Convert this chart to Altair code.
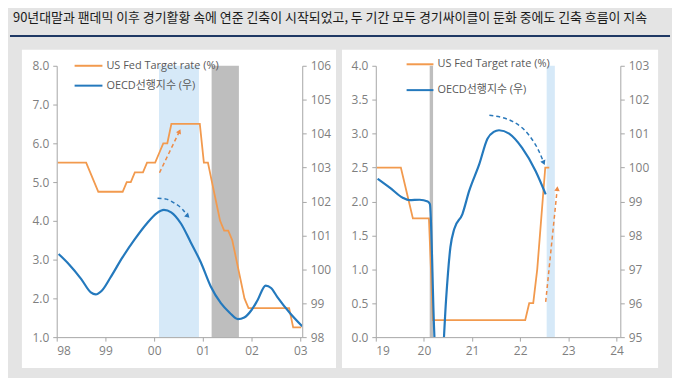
import altair as alt
import pandas as pd

TITLE = "90년대말과 팬데믹 이후 경기활황 속에 연준 긴축이 시작되었고, 두 기간 모두 경기싸이클이 둔화 중에도 긴축 흐름이 지속"
SERIES = ["US Fed Target rate (%)", "OECD선행지수 (우)"]
COLORS = ["#F29A4E", "#2479BD"]

# ---------------- left panel (1998-2003) ----------------
fed1_start_year = 1998
fed1_values = [
    5.5, 5.5, 5.5, 5.5, 5.5, 5.5, 5.5, 5.5, 5.25, 5.0, 4.75, 4.75,
    4.75, 4.75, 4.75, 4.75, 4.75, 5.0, 5.0, 5.25, 5.25, 5.25, 5.5, 5.5,
    5.5, 5.75, 6.0, 6.0, 6.5, 6.5, 6.5, 6.5, 6.5, 6.5, 6.5, 6.5,
    5.5, 5.5, 5.0, 4.5, 4.0, 3.75, 3.75, 3.5, 3.0, 2.5, 2.0, 1.75,
    1.75, 1.75, 1.75, 1.75, 1.75, 1.75, 1.75, 1.75, 1.75, 1.75, 1.25, 1.25,
    1.25,
]
cli1_x = [1998.04, 1998.25, 1998.50, 1998.70, 1998.80, 1998.92, 1999.10, 1999.35,
          1999.60, 1999.85, 2000.05, 2000.20, 2000.35, 2000.55, 2000.75, 2000.96,
          2001.16, 2001.37, 2001.55, 2001.72, 2001.85, 2002.00, 2002.12, 2002.29,
          2002.40, 2002.53, 2002.80, 2003.04]
cli1_v = [100.45, 100.15, 99.72, 99.32, 99.26, 99.36, 99.75, 100.35,
          100.88, 101.35, 101.65, 101.75, 101.68, 101.35, 100.80, 100.20,
          99.50, 99.00, 98.72, 98.53, 98.58, 98.80, 99.08, 99.52,
          99.45, 99.18, 98.69, 98.32]
band1_blue = [2000.10, 2000.92]
band1_grey = [2001.18, 2001.74]
arr1_fed_x = [2000.11, 2000.52]
arr1_fed_y = [5.24, 6.31]
arr1_cli_x = [2000.07, 2000.25, 2000.41, 2000.58, 2000.69]
arr1_cli_y = [4.58, 4.56, 4.46, 4.30, 4.12]

# ---------------- right panel (2019-2024) ----------------
fed2_start_year = 2019
fed2_values = [
    2.5, 2.5, 2.5, 2.5, 2.5, 2.5, 2.5, 2.25, 2.0, 1.75, 1.75, 1.75,
    1.75, 1.75, 0.25, 0.25, 0.25, 0.25, 0.25, 0.25, 0.25, 0.25, 0.25, 0.25,
    0.25, 0.25, 0.25, 0.25, 0.25, 0.25, 0.25, 0.25, 0.25, 0.25, 0.25, 0.25,
    0.25, 0.25, 0.5, 0.5, 1.0, 1.75, 2.5, 2.5,
]
cli2_x = [2019.04, 2019.29, 2019.56, 2019.70, 2019.91, 2020.08, 2020.125, 2020.21,
          2020.29, 2020.375, 2020.46, 2020.55, 2020.63, 2020.80, 2020.94, 2021.15,
          2021.32, 2021.45, 2021.56, 2021.77, 2022.04, 2022.32, 2022.53]
cli2_v = [99.67, 99.41, 99.11, 99.04, 99.05, 99.00, 98.92, 95.30,
          93.00, 94.00, 96.10, 97.65, 98.19, 98.63, 99.31, 100.10,
          100.85, 101.05, 101.10, 101.00, 100.58, 99.90, 99.21]
band2_blue = [2022.55, 2022.72]
band2_grey = [2020.12, 2020.19]
arr2_fed_x = [2022.53, 2022.77]
arr2_fed_y = [0.52, 2.19]
arr2_cli_x = [2021.36, 2021.84, 2022.18, 2022.39, 2022.49]
arr2_cli_y = [3.27, 3.18, 2.98, 2.74, 2.57]

ORANGE, BLUE = COLORS
LIGHT_BLUE = "#D6E9F8"
GREY_BAND = "#BEBEBE"
FONT = "Open Sans, Noto Sans CJK KR"
AX = dict(title=None, grid=False, zindex=1, domainColor="#A6A6A6", tickColor="#A6A6A6",
          tickSize=4, labelColor="#7F7F7F", labelFontSize=12, labelFont="Open Sans",
          labelPadding=4)


def monthly(start_year, values):
    xs = [start_year + (i + 0.25) / 12 for i in range(len(values))]
    return pd.DataFrame({"x": xs, "y": values, "series": SERIES[0]})


def panel(fed_df, cli_df, band_blue, band_grey, arr_fed, arr_cli, arr_angles,
          xdom, xticks, ldom, lvals, rdom, rvals, width, height,
          legend_x, legend_y, row_pad, sym, rect_x, rect_x2, header=False):
    xenc = alt.X("x:Q", scale=alt.Scale(domain=xdom, nice=False, zero=False),
                 axis=alt.Axis(values=xticks,
                               labelExpr="format(datum.value % 100, '02d')", **AX))
    yl = alt.Y("y:Q", scale=alt.Scale(domain=ldom, nice=False, zero=False),
               axis=alt.Axis(values=lvals, format=".1f", orient="left", **AX))
    yr = alt.Y("y:Q", scale=alt.Scale(domain=rdom, nice=False, zero=False),
               axis=alt.Axis(values=rvals, format="d", orient="right", **AX))
    leg = alt.Legend(orient="none", legendX=legend_x, legendY=legend_y, title=None,
                     symbolType="stroke", symbolSize=sym, symbolStrokeWidth=2,
                     labelFontSize=11, labelColor="#595959", labelFont=FONT,
                     rowPadding=row_pad, padding=0, labelOffset=3, zindex=2)
    cenc = alt.Color("series:N", scale=alt.Scale(domain=SERIES, range=COLORS), legend=leg)

    one = alt.Data(values=[{"a": 1}])
    bg = alt.Chart(one).mark_rect(color="white").encode(
        x=alt.value(rect_x), x2=alt.value(rect_x2),
        y=alt.value(-16), y2=alt.value(height + 31))
    layers = [bg]
    if header:
        layers.append(alt.Chart(one).mark_rule(color="#1F3864", strokeWidth=2).encode(
            x=alt.value(-47), x2=alt.value(617), y=alt.value(-30)))
        layers.append(alt.Chart(one).mark_text(
            text=TITLE, align="left", baseline="middle", font="Noto Sans CJK KR",
            fontSize=13, color="#1A1A1A").encode(x=alt.value(-44), y=alt.value(-48)))

    bands = pd.DataFrame({"x": [band_blue[0], band_grey[0]],
                          "x2": [band_blue[1], band_grey[1]],
                          "kind": ["tight", "recession"]})
    b_blue = alt.Chart(bands[bands.kind == "tight"]).mark_rect(color=LIGHT_BLUE).encode(
        x=xenc, x2="x2:Q")
    b_grey = alt.Chart(bands[bands.kind == "recession"]).mark_rect(color=GREY_BAND).encode(
        x=xenc, x2="x2:Q")
    fed = alt.Chart(fed_df).mark_line(strokeWidth=1.8).encode(x=xenc, y=yl, color=cenc)

    af = pd.DataFrame({"x": arr_fed[0], "y": arr_fed[1]})
    ac = pd.DataFrame({"x": arr_cli[0], "y": arr_cli[1], "o": range(len(arr_cli[0]))})
    a_fed = alt.Chart(af).mark_line(color="#EE8A45", strokeWidth=1.5, strokeDash=[4, 3]).encode(
        x=xenc, y=yl)
    a_cli = alt.Chart(ac).mark_line(color="#2A78BA", strokeWidth=1.5, strokeDash=[4, 3],
                                    interpolate="monotone").encode(x=xenc, y=yl, order="o:Q")
    h_fed = alt.Chart(af.tail(1)).mark_point(shape="triangle-up", filled=True, opacity=1,
                                              color="#EE8A45", size=30,
                                              angle=arr_angles[0]).encode(x=xenc, y=yl)
    h_cli = alt.Chart(ac.tail(1)).mark_point(shape="triangle-up", filled=True, opacity=1,
                                              color="#2A78BA", size=30,
                                              angle=arr_angles[1]).encode(x=xenc, y=yl)
    left_group = alt.layer(b_blue, b_grey, fed, a_fed, a_cli, h_fed, h_cli)

    cli = alt.Chart(cli_df).mark_line(strokeWidth=2.2, clip=True, interpolate="monotone").encode(
        x=xenc, y=yr, color=cenc)
    layers += [left_group, cli]
    return alt.layer(*layers).resolve_scale(y="independent").properties(width=width, height=height)


fed1 = monthly(fed1_start_year, fed1_values)
cli1 = pd.DataFrame({"x": cli1_x, "y": cli1_v, "series": SERIES[1]})
fed2 = monthly(fed2_start_year, fed2_values)
cli2 = pd.DataFrame({"x": cli2_x, "y": cli2_v, "series": SERIES[1]})

left = panel(fed1, cli1, band1_blue, band1_grey, (arr1_fed_x, arr1_fed_y),
             (arr1_cli_x, arr1_cli_y), (25, 135),
             [1998, 2003.04], [1998, 1999, 2000, 2001, 2002, 2003],
             [1, 8], [1, 2, 3, 4, 5, 6, 7, 8], [98, 106], list(range(98, 107)),
             247, 273, 17, -15, -2, 784, -35, 281, header=True)
right = panel(fed2, cli2, band2_blue, band2_grey, (arr2_fed_x, arr2_fed_y),
              (arr2_cli_x, arr2_cli_y), (6, 157),
              [2019, 2024.08], [2019, 2020, 2021, 2022, 2023, 2024],
              [0, 4], [0, 0.5, 1, 1.5, 2, 2.5, 3, 3.5, 4], [95, 103], list(range(95, 104)),
              246, 273, 30, -16, 6, 729, -34, 284)

chart = alt.hconcat(
    left, right, spacing=74, bounds="flush",
    padding={"left": 0, "top": 2, "right": 0, "bottom": 10},
).resolve_scale(color="independent", x="independent", y="independent").resolve_legend(
    color="independent"
).configure(background="#E4E4E4").configure_view(stroke="transparent")

chart.save("out.html", embed_options={"renderer": "svg", "actions": False})
